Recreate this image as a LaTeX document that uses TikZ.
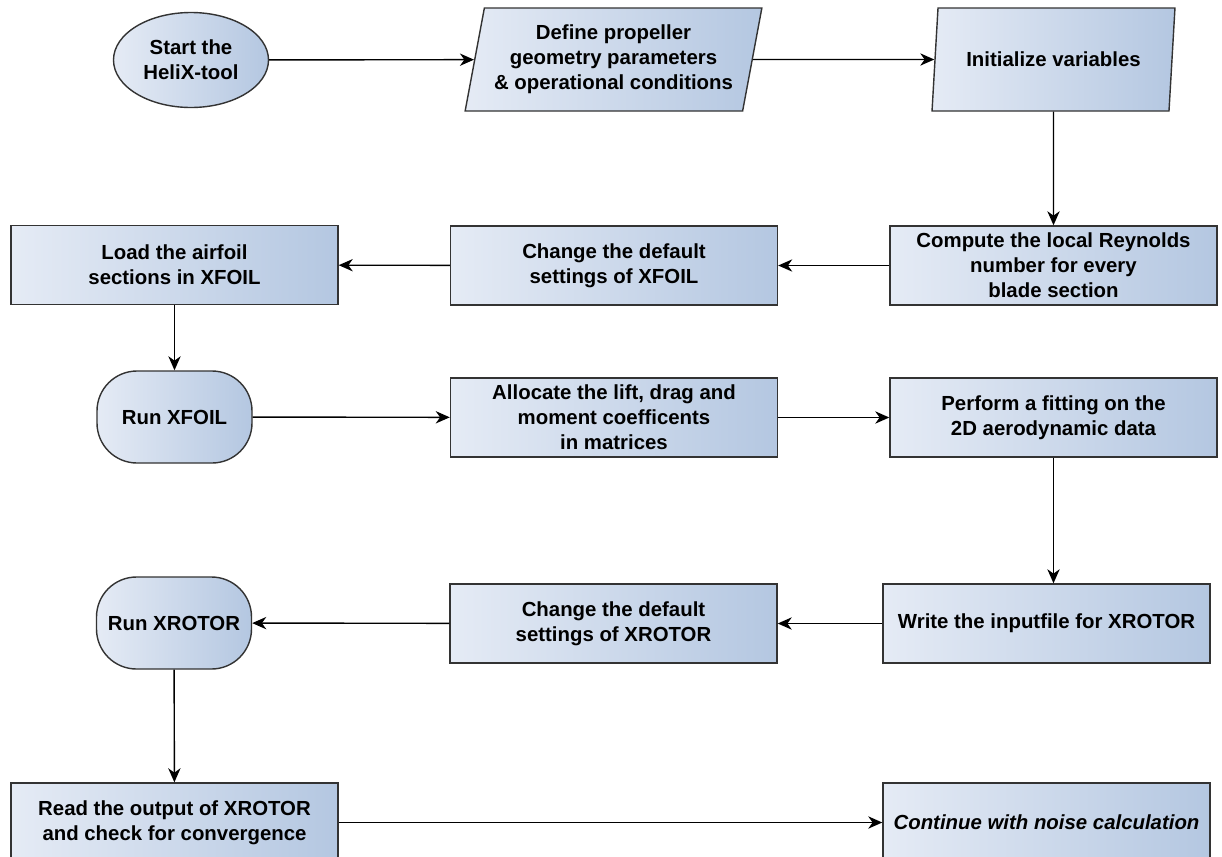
\documentclass[tikz,border=0pt]{standalone}
\usepackage{fontspec}
\setmainfont{Liberation Sans}
\usetikzlibrary{shapes.geometric,shapes.misc,arrows.meta}
\definecolor{boxleft}{HTML}{E5EBF5}
\definecolor{boxright}{HTML}{B4C7E1}
\definecolor{boxline}{HTML}{333333}
\begin{document}
\begin{tikzpicture}[
  font=\fontsize{11.6}{14.2}\selectfont\bfseries,
  every node/.style={draw=boxline, line width=0.8pt, left color=boxleft, right color=boxright, align=center, inner sep=1pt},
  process/.style={rectangle, minimum width=6.54cm, minimum height=1.58cm},
  io/.style={trapezium, trapezium left angle=76, trapezium right angle=104, trapezium stretches=true, minimum height=2.06cm},
  terminal/.style={rectangle, rounded corners=0.8cm, minimum width=3.1cm, minimum height=1.84cm},
  flow/.style={line width=0.8pt, -{Stealth[length=8pt,width=7pt,inset=2.5pt]}}
]
\useasboundingbox (0,0) rectangle (24.44,-17.14);

\node[ellipse, minimum width=3.1cm, minimum height=1.9cm] (start) at (3.82,-1.20) {Start the\\HeliX-tool};
\node[io, minimum width=5.94cm] (define) at (12.27,-1.19) {Define propeller\\geometry parameters\\\& operational conditions};
\node[io, minimum width=4.86cm] (init) at (21.07,-1.19) {Initialize variables};

\node[process] (compute) at (21.07,-5.31) {Compute the local Reynolds\\number for every\\blade section};
\node[process] (chgxfoil) at (12.28,-5.31) {Change the default\\settings of XFOIL};
\node[process] (load) at (3.49,-5.30) {Load the airfoil\\sections in XFOIL};

\node[terminal] (runxfoil) at (3.49,-8.34) {Run XFOIL};
\node[process] (allocate) at (12.28,-8.35) {Allocate the lift, drag and\\moment coefficents\\in matrices};
\node[process] (perform) at (21.07,-8.35) {Perform a fitting on the\\2D aerodynamic data};

\node[process] (write) at (20.93,-12.47) {Write the inputfile for XROTOR};
\node[process] (chgxrotor) at (12.27,-12.47) {Change the default\\settings of XROTOR};
\node[terminal] (runxrotor) at (3.48,-12.46) {Run XROTOR};

\node[process] (read) at (3.49,-16.45) {Read the output of XROTOR\\and check for convergence};
\node[process] (cont) at (20.93,-16.45) {\itshape Continue with noise calculation};

\draw[flow] (start) -- (define);
\draw[flow] (define) -- (init);
\draw[flow] (init) -- (compute);
\draw[flow] (compute) -- (chgxfoil);
\draw[flow] (chgxfoil) -- (load);
\draw[flow] (load) -- (runxfoil);
\draw[flow] (runxfoil) -- (allocate);
\draw[flow] (allocate) -- (perform);
\draw[flow] (perform.south) -- (perform.south |- write.north);
\draw[flow] (write) -- (chgxrotor);
\draw[flow] (chgxrotor) -- (runxrotor);
\draw[flow] (runxrotor) -- (read);
\draw[flow] (read) -- (cont);
\end{tikzpicture}
\end{document}
